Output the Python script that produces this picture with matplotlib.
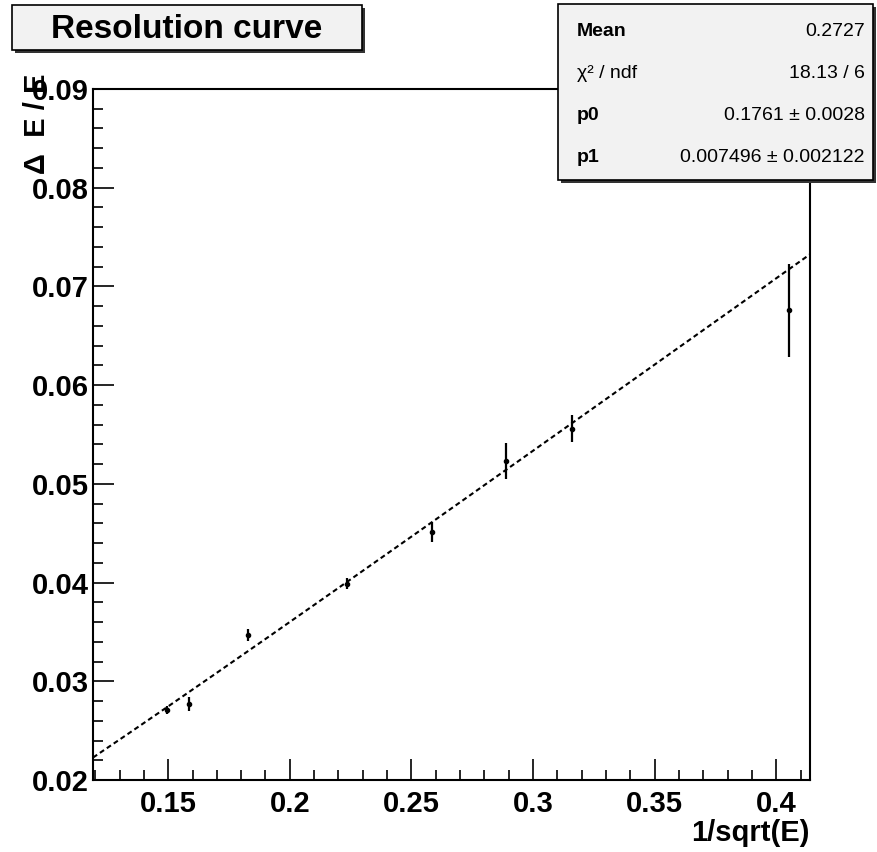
"""Resolution curve: dE/E versus 1/sqrt(E) with a quadrature fit."""

import matplotlib

matplotlib.use("Agg", force=True)
import matplotlib.pyplot as plt
import numpy as np
from matplotlib.patches import Rectangle
from matplotlib.ticker import MultipleLocator

# data
inv_sqrt_e = [0.1494, 0.1584, 0.1827, 0.2234, 0.2583, 0.2890, 0.3161, 0.4051]
resolution = [0.0271, 0.0277, 0.0347, 0.0399, 0.0451, 0.0523, 0.0556, 0.0676]
resolution_err = [0.0004, 0.0007, 0.0006, 0.0006, 0.0010, 0.0018, 0.0014, 0.0047]

# fit parameters (stat box)
p0, p0_err = 0.1761, 0.0028
p1, p1_err = 0.007496, 0.002122
mean = 0.2727
chi2, ndf = 18.13, 6

stat_labels = ["Mean", "χ² / ndf", "p0", "p1"]
stat_values = [f"{mean:.4f}", f"{chi2:.2f} / {ndf}",
               f"{p0:.4f} ± {p0_err:.4f}", f"{p1:.6f} ± {p1_err:.6f}"]

xlim = (0.1191, 0.4138)
ylim = (0.02, 0.09)

W, H = 878, 852
FONT = ["Liberation Sans", "DejaVu Sans"]
plt.rcParams["font.family"] = FONT


def fx(px):
    return px / W


def fy(py):
    return 1 - py / H


def box(fig, x0, y0, x1, y1, face):
    # shadow first, then the box
    fig.add_artist(Rectangle((fx(x0 + 3), fy(y1 + 3)), fx(x1 - x0), (y1 - y0) / H,
                             transform=fig.transFigure, facecolor="#333333",
                             edgecolor="none", zorder=4))
    fig.add_artist(Rectangle((fx(x0), fy(y1)), fx(x1 - x0), (y1 - y0) / H,
                             transform=fig.transFigure, facecolor=face,
                             edgecolor="black", linewidth=1.2, zorder=5))


fig = plt.figure(figsize=(W / 100, H / 100), dpi=100)
ax = fig.add_axes([fx(93), fy(780), fx(810 - 93), (780 - 89) / H])

ax.errorbar(inv_sqrt_e, resolution, yerr=resolution_err, fmt="o", color="black",
            markersize=3, elinewidth=1.6, capsize=0, zorder=3)

xs = np.linspace(xlim[0], xlim[1], 400)
ax.plot(xs, np.sqrt((p0 * xs) ** 2 + p1 ** 2), color="black", lw=1.5,
        linestyle=(0, (2.4, 1.6)), zorder=2)

ax.set_xlim(*xlim)
ax.set_ylim(*ylim)
ax.xaxis.set_minor_locator(MultipleLocator(0.01))
ax.yaxis.set_minor_locator(MultipleLocator(0.002))
ax.set_xticks([0.15, 0.2, 0.25, 0.3, 0.35, 0.4])
ax.set_xticklabels(["0.15", "0.2", "0.25", "0.3", "0.35", "0.4"])
ax.set_yticks([0.02, 0.03, 0.04, 0.05, 0.06, 0.07, 0.08, 0.09])
ax.set_yticklabels(["0.02", "0.03", "0.04", "0.05", "0.06", "0.07", "0.08", "0.09"])
ax.tick_params(which="both", direction="in", width=1.2, labelsize=21)
ax.tick_params(which="major", length=15)
ax.tick_params(which="minor", length=7.5)
ax.tick_params(axis="x", which="major", pad=7)
ax.tick_params(axis="y", which="major", pad=3)
for lab in ax.get_xticklabels() + ax.get_yticklabels():
    lab.set_fontweight("bold")
for sp in ax.spines.values():
    sp.set_linewidth(1.5)

fig.text(fx(810), fy(833), "1/sqrt(E)", ha="right", va="center",
         fontsize=21, fontweight="bold")
# axis title sits on top of the 0.09 label, as in the reference
fig.text(fx(37), fy(74), "Δ  E / E", ha="center", va="top", rotation=90,
         fontsize=21, fontweight="bold")

# title box
box(fig, 12, 5, 362, 50, "#f2f2f2")
fig.text(fx(187), fy(29), "Resolution curve", ha="center", va="center",
         fontsize=24, fontweight="bold", zorder=6)

# stat box
box(fig, 558, 4, 873, 180, "#f2f2f2")
for i, (lab, val) in enumerate(zip(stat_labels, stat_values)):
    yy = fy(31 + i * 42.3)
    fig.text(fx(577), yy, lab, ha="left", va="center", fontsize=14,
             fontweight="bold" if i in (0, 2, 3) else "normal", zorder=6)
    fig.text(fx(865), yy, val, ha="right", va="center", fontsize=14, zorder=6)

fig.savefig("out.png", dpi=100)
plt.close(fig)
